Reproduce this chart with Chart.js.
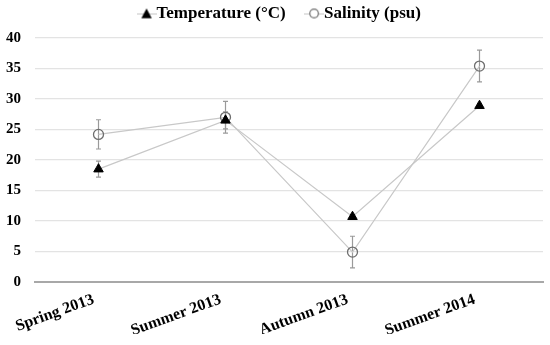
<!DOCTYPE html>
<html>
<head>
<meta charset="utf-8">
<script src="https://cdn.jsdelivr.net/npm/chart.js@4"></script>
<style>
html,body{margin:0;padding:0;background:#fff;}
#wrap{width:550px;height:345px;}
</style>
</head>
<body>
<div id="wrap"><canvas id="c" width="550" height="345"></canvas></div>
<script>
const categories = ["Spring 2013", "Summer 2013", "Autumn 2013", "Summer 2014"];
const temperature = [18.5, 26.5, 10.7, 28.9];
const temperatureErr = [1.3, 1.4, 0.4, 0.4];
const salinity = [24.2, 27.0, 4.9, 35.4];
const salinityErr = [2.4, 2.6, 2.6, 2.6];
const yTicks = [0, 5, 10, 15, 20, 25, 30, 35, 40];

// legend glyphs (line + marker, like the original legend)
function makeGlyph(kind) {
  const c = document.createElement('canvas');
  c.width = 20; c.height = 12;
  const g = c.getContext('2d');
  g.strokeStyle = '#c4c4c4'; g.lineWidth = 1;
  g.beginPath(); g.moveTo(0, 6.5); g.lineTo(20, 6.5); g.stroke();
  if (kind === 'triangle') {
    g.fillStyle = '#000';
    g.beginPath(); g.moveTo(10, 1); g.lineTo(15.2, 10.8); g.lineTo(4.8, 10.8); g.closePath(); g.fill();
  } else {
    g.fillStyle = '#fff'; g.strokeStyle = '#6e6e6e'; g.lineWidth = 1.2;
    g.beginPath(); g.arc(10, 6, 4.3, 0, Math.PI * 2); g.fill(); g.stroke();
  }
  return c;
}
const glyphs = [makeGlyph('triangle'), makeGlyph('circle')];

const LEG_PAD = 27;
const legendTweak = {
  id: 'legendTweak',
  beforeLayout(chart) {
    const lg = chart.legend;
    if (lg && !lg._patched) {
      const f = lg.fit.bind(lg);
      lg.fit = function () { f(); this.height -= 16; };
      lg._patched = true;
    }
  },
  afterLayout(chart) {
    const lg = chart.legend;
    if (lg) { lg.top -= (LEG_PAD - 5); lg.left += 9; lg.right += 9; }
  }
};

const errorBars = {
  id: 'errorBars',
  beforeDatasetsDraw(chart) {
    const ctx = chart.ctx;
    const y = chart.scales.y;
    chart.data.datasets.forEach((ds, di) => {
      const meta = chart.getDatasetMeta(di);
      const errs = ds.errors || [];
      ctx.save();
      ctx.strokeStyle = '#9a9a9a';
      ctx.lineWidth = 1.2;
      meta.data.forEach((pt, i) => {
        const e = errs[i];
        if (!e) return;
        const v = ds.data[i];
        const t = y.getPixelForValue(v + e);
        const b = y.getPixelForValue(v - e);
        const x = pt.x;
        ctx.beginPath();
        ctx.moveTo(x, t); ctx.lineTo(x, b);
        ctx.moveTo(x - 2.5, t); ctx.lineTo(x + 2.5, t);
        ctx.moveTo(x - 2.5, b); ctx.lineTo(x + 2.5, b);
        ctx.stroke();
      });
      ctx.restore();
    });
  }
};

new Chart(document.getElementById('c'), {
  type: 'line',
  data: {
    labels: categories,
    datasets: [
      {
        label: 'Temperature (°C)',
        data: temperature,
        errors: temperatureErr,
        borderColor: '#c8c8c8',
        borderWidth: 1.2,
        pointStyle: 'triangle',
        pointRadius: 5.5,
        pointBackgroundColor: '#000',
        pointBorderColor: '#000',
        pointBorderWidth: 1,
        tension: 0
      },
      {
        label: 'Salinity (psu)',
        data: salinity,
        errors: salinityErr,
        borderColor: '#c8c8c8',
        borderWidth: 1.2,
        pointStyle: 'circle',
        pointRadius: 5,
        pointBackgroundColor: 'rgba(0,0,0,0)',
        pointBorderColor: '#6e6e6e',
        pointBorderWidth: 1.3,
        tension: 0
      }
    ]
  },
  options: {
    responsive: false,
    animation: false,
    layout: { padding: { left: 5, right: 7, top: 0, bottom: 11 } },
    plugins: {
      legend: {
        position: 'top',
        labels: {
          usePointStyle: true,
          pointStyleWidth: 3,
          boxHeight: 9,
          color: '#000',
          padding: LEG_PAD,
          font: { family: 'Liberation Serif', weight: 'bold', size: 17 },
          generateLabels(chart) {
            const items = Chart.defaults.plugins.legend.labels.generateLabels(chart);
            items.forEach((it, i) => { it.pointStyle = glyphs[i]; });
            return items;
          }
        }
      },
      tooltip: { enabled: false }
    },
    scales: {
      x: {
        offset: true,
        afterFit(scale) { scale.height = 52; scale.paddingLeft = 0; scale.paddingRight = 0; },
        grid: { display: false, drawTicks: false },
        border: { display: true, color: '#a8a8a8', width: 2 },
        ticks: {
          color: '#000',
          minRotation: 20,
          maxRotation: 20,
          padding: 8,
          labelOffset: -5,
          font: { family: 'Liberation Serif', weight: 'bold', size: 16 }
        }
      },
      y: {
        min: 0,
        max: 40,
        afterFit(scale) { scale.width = 30; },
        afterBuildTicks(scale) { scale.ticks = yTicks.map(v => ({ value: v })); },
        grid: { color: '#e3e3e3', lineWidth: 1.2, drawTicks: false },
        border: { display: false },
        ticks: {
          color: '#000',
          padding: 14,
          font: { family: 'Liberation Serif', weight: 'bold', size: 15 }
        }
      }
    }
  },
  plugins: [errorBars, legendTweak]
});
</script>
</body>
</html>
